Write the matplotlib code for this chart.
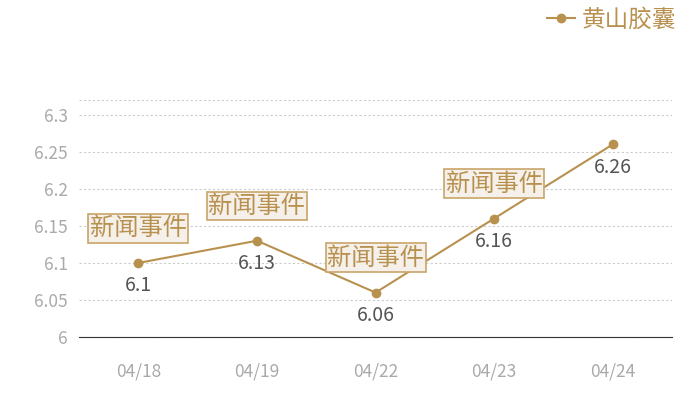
import matplotlib
matplotlib.use("Agg")
import matplotlib.pyplot as plt

# ── Dados ────────────────────────────────────────────────────────────────────
dates = ["04/18", "04/19", "04/22", "04/23", "04/24"]
values = [6.1, 6.13, 6.06, 6.16, 6.26]
value_labels = ["6.1", "6.13", "6.06", "6.16", "6.26"]
event_idx = [0, 1, 2, 3]
event_text = "新闻事件"
series_name = "黄山胶囊"
yticks = [6, 6.05, 6.1, 6.15, 6.2, 6.25, 6.3]
ytick_labels = ["6", "6.05", "6.1", "6.15", "6.2", "6.25", "6.3"]

GOLD = "#b8914f"
plt.rcParams["font.family"] = ["Noto Sans CJK SC", "DejaVu Sans"]

fig = plt.figure(figsize=(7, 4), dpi=100)
ax = fig.add_axes([0.113, 0.1575, 0.847, 0.5925])

x = list(range(len(dates)))
line, = ax.plot(x, values, color=GOLD, linewidth=1.5, marker="o",
                markersize=6, label=series_name, zorder=3)

for xi, v, lab in zip(x, values, value_labels):
    ax.annotate(lab, (xi, v), xytext=(0, -9), textcoords="offset points",
                ha="center", va="top", fontsize=14, color="#555555")

for i in event_idx:
    ax.annotate(event_text, (x[i], values[i]), xytext=(0, 25),
                textcoords="offset points", ha="center", va="center",
                fontsize=17.5, color=GOLD, zorder=5,
                bbox=dict(boxstyle="square,pad=0.06", fc="#f5f0e9",
                          ec="#c9a46a", lw=1.2))

ax.set_xlim(-0.5, 4.5)
ax.set_ylim(6, 6.32)
ax.set_yticks(yticks)
ax.set_yticklabels(ytick_labels)
ax.set_xticks(x)
ax.set_xticklabels(dates)
ax.tick_params(axis="both", length=0, labelsize=12.5, colors="#aaaaaa")
ax.tick_params(axis="x", pad=18)
ax.tick_params(axis="y", pad=8)

ax.grid(axis="y", color="#cccccc", linestyle=(0, (2, 2)), linewidth=0.8)
ax.axhline(6.32, color="#cccccc", linestyle=(0, (2, 2)), linewidth=0.8)
for s in ["top", "right", "left"]:
    ax.spines[s].set_visible(False)
ax.spines["bottom"].set_color("#333333")
ax.set_axisbelow(True)

leg = fig.legend(handles=[line], loc="upper right", bbox_to_anchor=(0.997, 1.032),
                 frameon=False, fontsize=17, handlelength=1.2,
                 handletextpad=0.3, labelcolor=GOLD)

fig.savefig("out.png", dpi=100)
